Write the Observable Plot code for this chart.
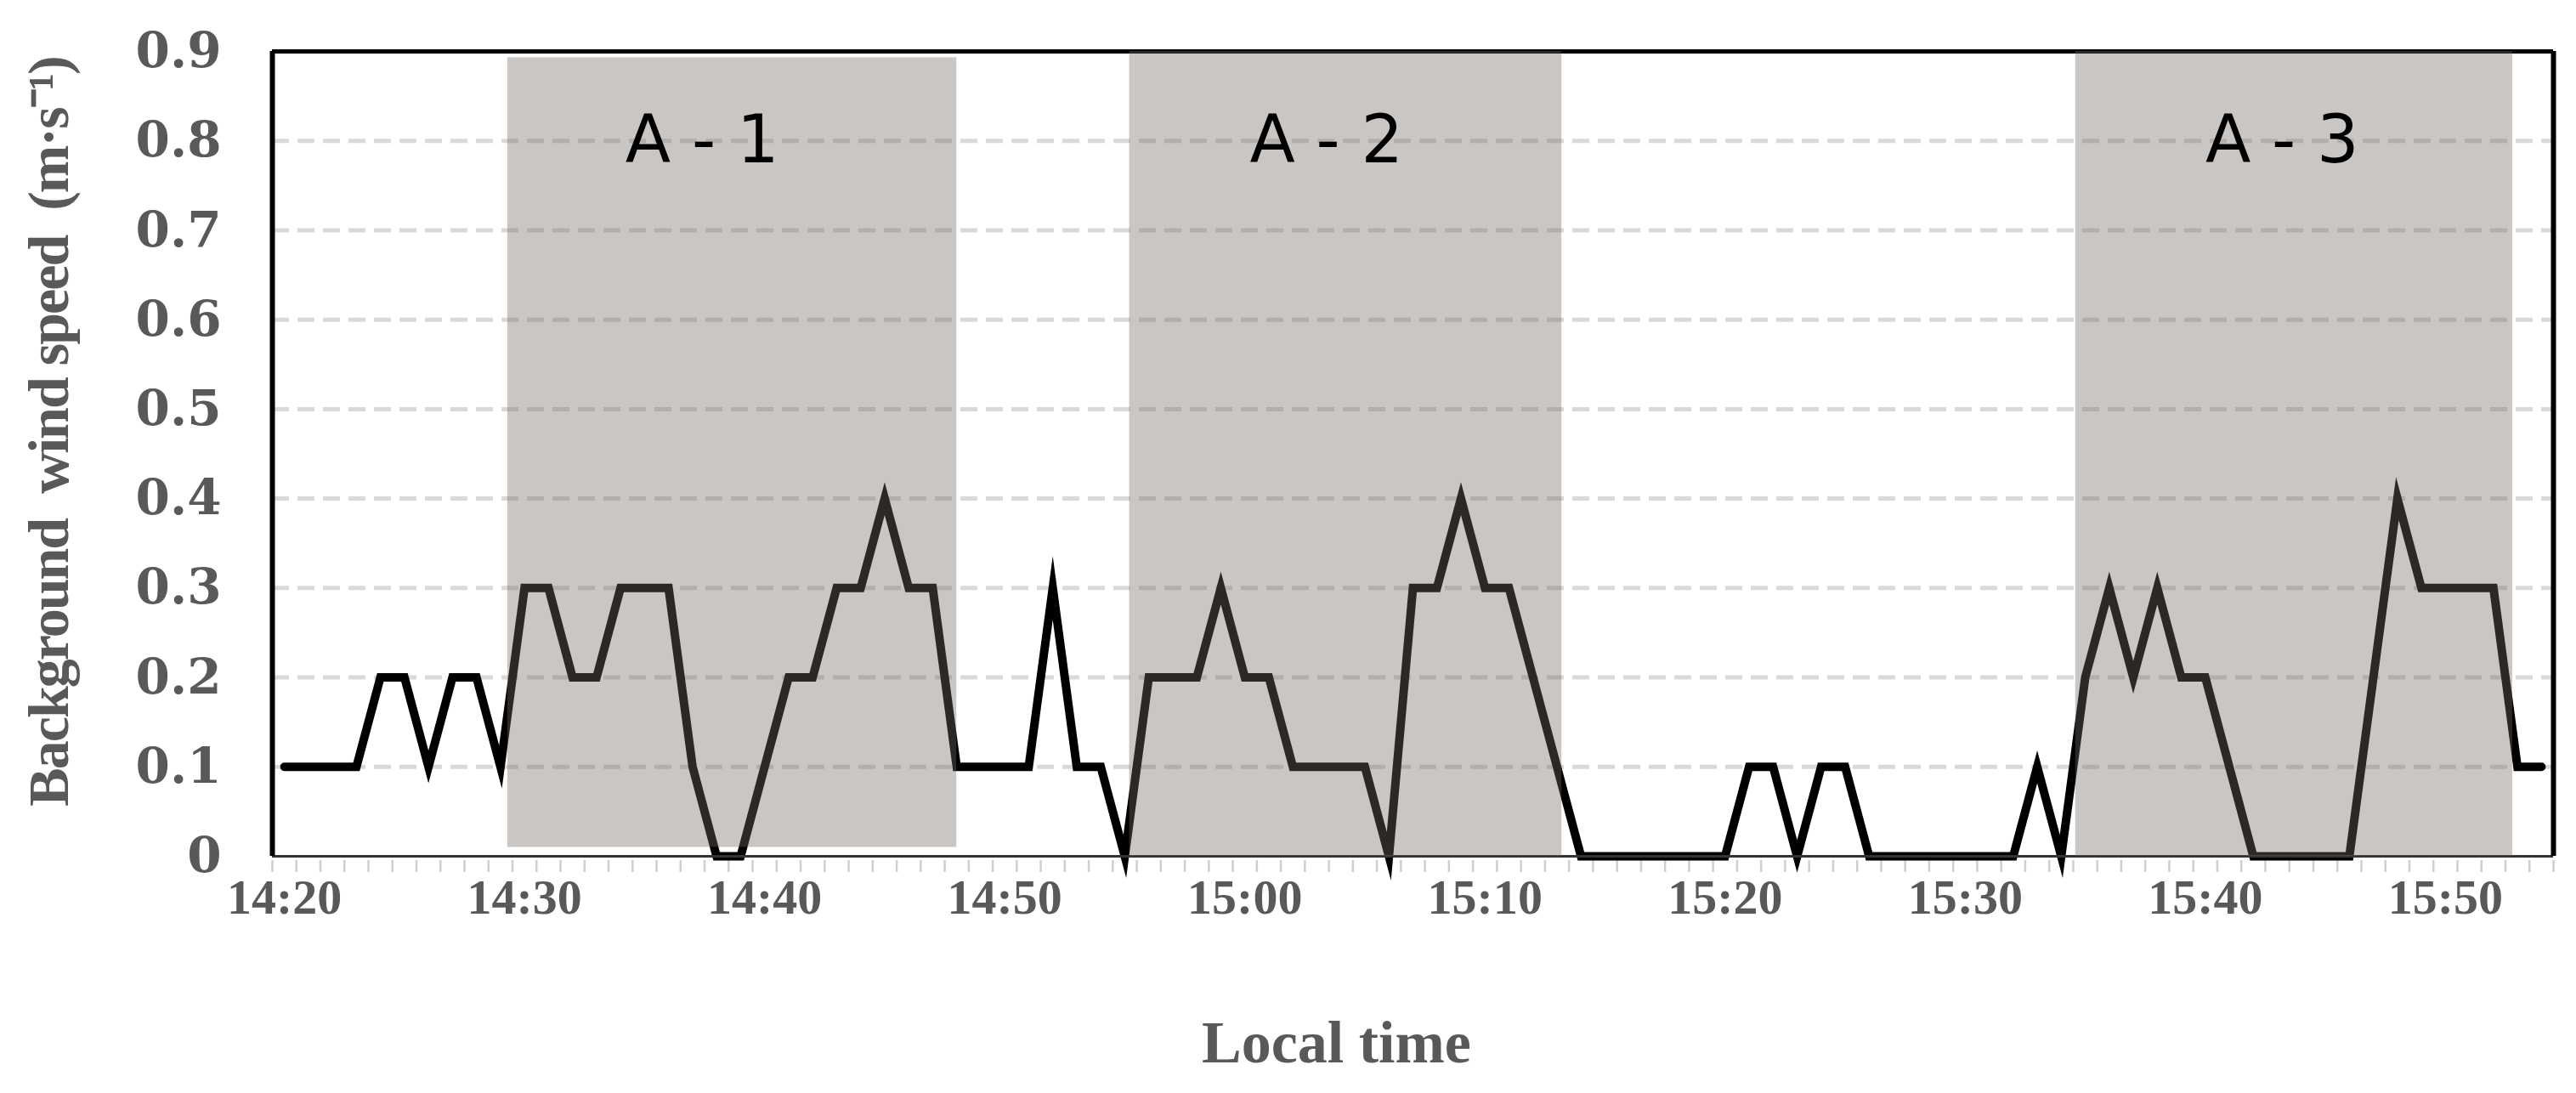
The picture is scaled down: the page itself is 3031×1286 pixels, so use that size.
<!DOCTYPE html>
<html>
<head>
<meta charset="utf-8">
<script src="https://cdn.jsdelivr.net/npm/d3@7"></script>
<script src="https://cdn.jsdelivr.net/npm/@observablehq/plot@0.6"></script>
<style>
  html, body { margin: 0; padding: 0; background: #fff; }
  svg { display: block; }
</style>
</head>
<body>
<div id="chart"></div>
<script>
// ---- data ----
const startTime = "14:20";           // first minute of the record
const windSpeed = [                  // one value per minute, 14:20 .. 15:54
  0.1, 0.1, 0.1, 0.1, 0.2, 0.2, 0.1, 0.2, 0.2, 0.1,
  0.3, 0.3, 0.2, 0.2, 0.3, 0.3, 0.3, 0.1, 0.0, 0.0,
  0.1, 0.2, 0.2, 0.3, 0.3, 0.4, 0.3, 0.3, 0.1, 0.1,
  0.1, 0.1, 0.3, 0.1, 0.1, 0.0, 0.2, 0.2, 0.2, 0.3,
  0.2, 0.2, 0.1, 0.1, 0.1, 0.1, 0.0, 0.3, 0.3, 0.4,
  0.3, 0.3, 0.2, 0.1, 0.0, 0.0, 0.0, 0.0, 0.0, 0.0,
  0.0, 0.1, 0.1, 0.0, 0.1, 0.1, 0.0, 0.0, 0.0, 0.0,
  0.0, 0.0, 0.0, 0.1, 0.0, 0.2, 0.3, 0.2, 0.3, 0.2,
  0.2, 0.1, 0.0, 0.0, 0.0, 0.0, 0.0, 0.2, 0.4, 0.3,
  0.3, 0.3, 0.3, 0.1, 0.1
];
const xTickLabels = ["14:20","14:30","14:40","14:50","15:00","15:10","15:20","15:30","15:40","15:50"];
const yTicks = [0, 0.1, 0.2, 0.3, 0.4, 0.5, 0.6, 0.7, 0.8, 0.9];

// shaded periods (minutes after 14:20)
const periodNames  = ["A - 1", "A - 2", "A - 3"];
const periodStart  = [9.3, 35.2, 74.6];
const periodEnd    = [28.0, 53.2, 92.8];
const periodBottom = [0.01, 0, 0];
const periodTop    = [0.893, 0.9, 0.9];
const periodLabelAt = [17.4, 43.4, 83.2];
const periodLabelSpeed = [0.8, 0.8, 0.8];

const yTitle = "Background\u00a0\u00a0wind speed\u00a0\u00a0(m\u00b7s\u207b\u00b9)";
const xTitle = "Local time";

// ---- helpers ----
const [h0, m0] = startTime.split(":").map(Number);
const base = Date.UTC(2000, 0, 1, h0, m0);
const t = (min) => new Date(base + min * 60000);
const parseHM = (s) => { const [h, m] = s.split(":").map(Number); return new Date(Date.UTC(2000, 0, 1, h, m)); };

const series = windSpeed.map((v, i) => ({time: t(i), speed: v}));
const periods = periodNames.map((name, i) => ({
  name,
  x1: t(periodStart[i]), x2: t(periodEnd[i]),
  y1: periodBottom[i], y2: periodTop[i],
  lx: t(periodLabelAt[i]), ly: periodLabelSpeed[i]
}));
const xMin = t(-0.5), xMax = t(windSpeed.length - 0.5);
const minorTicks = d3.range(windSpeed.length + 1).map(k => t(k - 0.5));
const labelTicks = xTickLabels.map(parseHM);
const gridValues = yTicks.filter(v => v > 0 && v < 0.9);
const serif = "'Liberation Serif', 'Times New Roman', serif";
const grey = "#595959";

const chart = Plot.plot({
  width: 3031,
  height: 1286,
  marginLeft: 320,
  marginRight: 27,
  marginTop: 60,
  marginBottom: 279,
  style: {background: "#fff", fontFamily: serif, overflow: "visible"},
  x: {type: "utc", domain: [xMin, xMax]},
  y: {domain: [0, 0.9]},
  marks: [
    // dashed gridlines
    Plot.ruleY(gridValues, {stroke: "#000", strokeOpacity: 0.15, strokeWidth: 5, strokeDasharray: "20,10"}),
    // minor ticks at category boundaries
    Plot.axisX(minorTicks, {tickSize: 14, dy: 5, stroke: "#cfcfcf", strokeWidth: 2.5, tickFormat: () => "", label: null}),
    // time labels
    Plot.axisX(labelTicks, {tickSize: 0, tickPadding: 26, tickFormat: d3.utcFormat("%H:%M"),
      fontSize: 58, fontWeight: "bold", fontFamily: serif, fill: grey, label: null}),
    // wind speed line
    Plot.line(series, {x: "time", y: "speed", stroke: "#000", strokeWidth: 10,
      strokeLinejoin: "miter", strokeMiterlimit: 10, strokeLinecap: "round"}),
    // frame
    Plot.ruleY([0], {stroke: "#333", strokeWidth: 3}),
    Plot.ruleY([0.9], {stroke: "#000", strokeWidth: 5}),
    Plot.ruleX([xMin, xMax], {y1: 0, y2: 0.9, stroke: "#000", strokeWidth: 6}),
    // shaded periods (semi-transparent, over the line)
    Plot.rect(periods, {x1: "x1", x2: "x2", y1: "y1", y2: "y2", fill: "rgb(113,105,100)", fillOpacity: 0.38}),
    Plot.text(periods, {x: "lx", y: "ly", text: "name", fontSize: 78,
      fontFamily: "'DejaVu Sans', sans-serif", fill: "#000"}),
    // y axis labels
    Plot.axisY(yTicks, {tickSize: 0, tickPadding: 60, tickFormat: d => d === 0 ? "0" : d.toFixed(1),
      fontSize: 58, fontWeight: "bold", fontFamily: "'DejaVu Serif', serif", fill: grey, label: null}),
    // axis titles
    Plot.text([yTitle], {frameAnchor: "left", textAnchor: "middle", rotate: -90, dx: -262, dy: -26, fontSize: 68,
      fontWeight: "bold", fontFamily: serif, fill: grey}),
    Plot.text([xTitle], {frameAnchor: "bottom", textAnchor: "middle", dx: -90, dy: 242, fontSize: 70,
      fontWeight: "bold", fontFamily: serif, fill: grey})
  ]
});
// condense the rotated y title slightly, as in the original
d3.select(chart).selectAll("text")
  .filter(function() { return this.textContent === yTitle; })
  .style("letter-spacing", "-2px");
document.getElementById("chart").appendChild(chart);
</script>
</body>
</html>
